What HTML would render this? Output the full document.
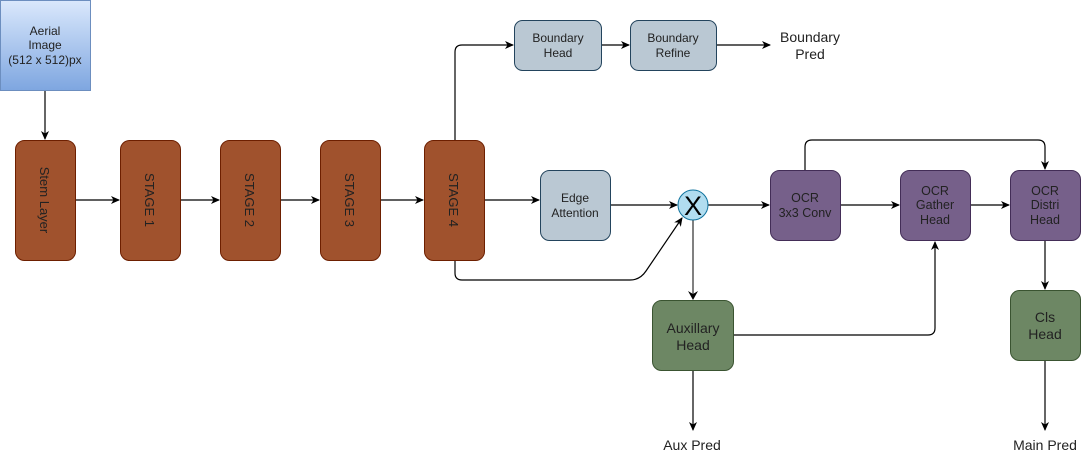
<!DOCTYPE html>
<html><head><meta charset="utf-8"><style>
html,body{margin:0;padding:0;background:#fff;}
svg{display:block;font-family:"Liberation Sans",Arial,sans-serif;}
</style></head><body>
<svg width="1081" height="461" viewBox="0 0 1081 461" xmlns="http://www.w3.org/2000/svg">
<defs>
<linearGradient id="g1" x1="0" y1="0" x2="0" y2="1"><stop offset="0" stop-color="#dae8fc"/><stop offset="1" stop-color="#7ea6e0"/></linearGradient>
<marker id="a" markerWidth="10" markerHeight="10" refX="8" refY="5" orient="auto" markerUnits="userSpaceOnUse"><path d="M0,1 L9,5 L0,9 L2.5,5 Z" fill="#000"/></marker>
</defs>
<rect x="0.5" y="0.5" width="90" height="90" fill="url(#g1)" stroke="#6c8ebf"/>
<text x="45" y="35" font-size="12" text-anchor="middle" fill="#222">Aerial</text>
<text x="45" y="49" font-size="12" text-anchor="middle" fill="#222">Image</text>
<text x="45" y="64" font-size="12" text-anchor="middle" fill="#222">(512 x 512)px</text>
<g stroke="#000" stroke-width="1.2" fill="none" marker-end="url(#a)">
<line x1="45" y1="91" x2="45" y2="139"/>
<line x1="76" y1="200" x2="119" y2="200"/>
<line x1="181" y1="200" x2="219" y2="200"/>
<line x1="281" y1="200" x2="319" y2="200"/>
<line x1="381" y1="200" x2="423" y2="200"/>
<line x1="485" y1="200" x2="539" y2="200"/>
<path d="M455,140 V52 Q455,45 462,45 H513"/>
<line x1="602" y1="45" x2="629" y2="45"/>
<line x1="717" y1="45" x2="770" y2="45"/>
<line x1="611" y1="205" x2="677" y2="205"/>
<path d="M455,261 V273 Q455,280 462,280 H630 Q640,280 646,271 L682,218"/>
<line x1="708" y1="205" x2="769" y2="205"/>
<line x1="841" y1="205" x2="899" y2="205"/>
<line x1="971" y1="205" x2="1009" y2="205"/>
<path d="M805,170 V147 Q805,140 812,140 H1038 Q1045,140 1045,147 V169"/>
<path d="M734,335 H928 Q935,335 935,328 V242"/>
<line x1="1045" y1="241" x2="1045" y2="289"/>
<line x1="1045" y1="361" x2="1045" y2="430"/>
<line x1="693" y1="371" x2="693" y2="430"/>
</g>
<line x1="693" y1="220" x2="693" y2="297" stroke="#808080" stroke-width="2"/>
<path d="M688,291 L693,300 L698,291 L693,294 Z" fill="#000"/>
<g fill="#a0522d" stroke="#6d1f00">
<rect x="15.5" y="140.5" width="60" height="120" rx="9"/>
<rect x="120.5" y="140.5" width="60" height="120" rx="9"/>
<rect x="220.5" y="140.5" width="60" height="120" rx="9"/>
<rect x="320.5" y="140.5" width="60" height="120" rx="9"/>
<rect x="424.5" y="140.5" width="60" height="120" rx="9"/>
</g>
<g font-size="13" fill="#222" text-anchor="middle">
<text transform="translate(40,200) rotate(90)">Stem Layer</text>
<text transform="translate(145,200) rotate(90)">STAGE 1</text>
<text transform="translate(245,200) rotate(90)">STAGE 2</text>
<text transform="translate(345,200) rotate(90)">STAGE 3</text>
<text transform="translate(449,200) rotate(90)">STAGE 4</text>
</g>
<g fill="#bac8d3" stroke="#23445d">
<rect x="514.5" y="20.5" width="87" height="50" rx="8"/>
<rect x="630.5" y="20.5" width="86" height="50" rx="8"/>
<rect x="540.5" y="170.5" width="70" height="70" rx="9"/>
</g>
<g font-size="12" fill="#222" text-anchor="middle">
<text x="558" y="42">Boundary</text><text x="558" y="57">Head</text>
<text x="673" y="42">Boundary</text><text x="673" y="57">Refine</text>
<text x="575" y="202">Edge</text><text x="575" y="217">Attention</text>
</g>
<g font-size="14" fill="#222" text-anchor="middle">
<text x="810" y="42">Boundary</text><text x="810" y="59">Pred</text>
<text x="692" y="450">Aux Pred</text>
<text x="1045" y="450">Main Pred</text>
</g>
<circle cx="693" cy="205" r="15" fill="#b1ddf0" stroke="#10739e"/>
<text x="693" y="215" font-size="27" text-anchor="middle" fill="#000">X</text>
<g fill="#76608a" stroke="#432d57">
<rect x="770.5" y="170.5" width="70" height="70" rx="9"/>
<rect x="900.5" y="170.5" width="70" height="70" rx="9"/>
<rect x="1010.5" y="170.5" width="70" height="70" rx="9"/>
</g>
<g font-size="12.5" fill="#222" text-anchor="middle">
<text x="805" y="202">OCR</text><text x="805" y="217">3x3 Conv</text>
<text x="935" y="195">OCR</text><text x="935" y="209">Gather</text><text x="935" y="224">Head</text>
<text x="1045" y="195">OCR</text><text x="1045" y="209">Distri</text><text x="1045" y="224">Head</text>
</g>
<g fill="#6d8764" stroke="#3a5431">
<rect x="652.5" y="300.5" width="81" height="70" rx="9"/>
<rect x="1010.5" y="290.5" width="70" height="70" rx="9"/>
</g>
<g font-size="14" fill="#222" text-anchor="middle">
<text x="693" y="333">Auxillary</text><text x="693" y="350">Head</text>
<text x="1045" y="322">Cls</text><text x="1045" y="339">Head</text>
</g>
</svg>
</body></html>
